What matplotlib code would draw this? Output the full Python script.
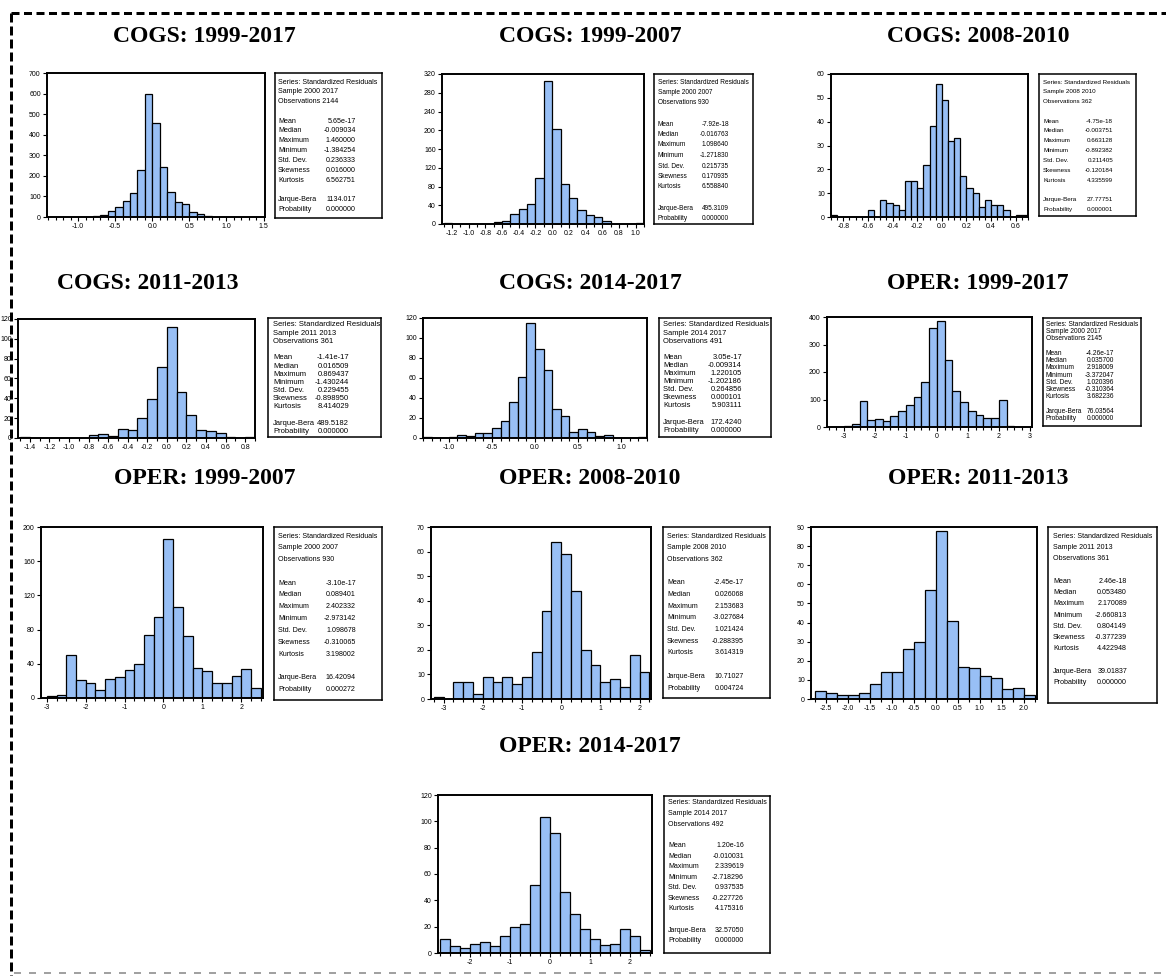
import numpy as np
import matplotlib
matplotlib.use("Agg")
import matplotlib.pyplot as plt
from matplotlib.lines import Line2D
from matplotlib import font_manager

plt.rcParams["lines.scale_dashes"] = False

# ---------------------------------------------------------------- data
titles = ["COGS: 1999-2017", "COGS: 1999-2007", "COGS: 2008-2010",
          "COGS: 2011-2013", "COGS: 2014-2017", "OPER: 1999-2017",
          "OPER: 1999-2007", "OPER: 2008-2010", "OPER: 2011-2013",
          "OPER: 2014-2017"]

# first bin edge and bin width of each histogram
bin_start = [-1.4, -1.3, -0.9, -1.5, -1.3, -3.5, -3.0, -3.25, -2.75, -2.75]
bin_width = [0.1, 0.1, 0.05, 0.1, 0.1, 0.25, 0.25, 0.25, 0.25, 0.25]

counts_cogs_9917 = [2, 0, 0, 0, 1, 2, 5, 10, 28, 50, 78, 115, 230, 598, 458,
                    245, 123, 73, 62, 25, 16, 4, 2, 0, 1, 1, 0, 0, 2]
counts_cogs_9907 = [2, 0, 0, 0, 1, 1, 4, 7, 22, 31, 43, 98, 305, 202, 86, 55,
                    30, 20, 14, 7, 0, 1, 0, 2]
counts_cogs_0810 = [1, 0, 0, 0, 0, 0, 3, 0, 7, 6, 5, 3, 15, 15, 12, 22, 38, 56,
                    49, 32, 33, 17, 12, 10, 4, 7, 5, 5, 3, 0, 1, 1]
counts_cogs_1113 = [1, 0, 0, 0, 0, 0, 0, 3, 4, 2, 9, 8, 20, 39, 72, 112, 46,
                    23, 8, 7, 5, 1, 0, 1]
counts_cogs_1417 = [1, 0, 0, 1, 3, 2, 5, 5, 10, 17, 36, 61, 115, 89, 68, 29,
                    22, 6, 9, 6, 2, 3, 0, 0, 0, 1]
counts_oper_9917 = [1, 1, 2, 12, 95, 25, 30, 22, 40, 58, 80, 110, 165, 360,
                    385, 242, 132, 92, 58, 42, 33, 33, 98, 4, 1, 1]
counts_oper_9907 = [2, 4, 50, 21, 17, 9, 22, 24, 33, 40, 74, 95, 186, 106, 73,
                    35, 32, 18, 17, 26, 34, 12]
counts_oper_0810 = [1, 0, 7, 7, 2, 9, 7, 9, 6, 9, 19, 36, 64, 59, 44, 20, 14,
                    7, 8, 5, 18, 11]
counts_oper_1113 = [4, 3, 2, 2, 3, 8, 14, 14, 26, 30, 57, 88, 41, 17, 16, 12,
                    11, 5, 6, 2]
counts_oper_1417 = [11, 5, 4, 7, 8, 5, 13, 20, 22, 52, 103, 91, 46, 30, 18, 11,
                    6, 7, 18, 13, 2]
all_counts = [counts_cogs_9917, counts_cogs_9907, counts_cogs_0810,
              counts_cogs_1113, counts_cogs_1417, counts_oper_9917,
              counts_oper_9907, counts_oper_0810, counts_oper_1113,
              counts_oper_1417]

x_ranges = [(-1.42, 1.52), (-1.32, 1.1), (-0.9, 0.7), (-1.52, 0.9),
            (-1.3, 1.3), (-3.55, 3.07), (-3.15, 2.56), (-3.32, 2.29),
            (-2.83, 2.3), (-2.8, 2.55)]
x_ticks = [[-1.0, -0.5, 0.0, 0.5, 1.0, 1.5],
           [-1.2, -1.0, -0.8, -0.6, -0.4, -0.2, 0.0, 0.2, 0.4, 0.6, 0.8, 1.0],
           [-0.8, -0.6, -0.4, -0.2, 0.0, 0.2, 0.4, 0.6],
           [-1.4, -1.2, -1.0, -0.8, -0.6, -0.4, -0.2, 0.0, 0.2, 0.4, 0.6, 0.8],
           [-1.0, -0.5, 0.0, 0.5, 1.0],
           [-3, -2, -1, 0, 1, 2, 3],
           [-3, -2, -1, 0, 1, 2],
           [-3, -2, -1, 0, 1, 2],
           [-2.5, -2.0, -1.5, -1.0, -0.5, 0.0, 0.5, 1.0, 1.5, 2.0],
           [-2, -1, 0, 1, 2]]
x_fmt = ["%.1f"] * 5 + ["%d"] * 3 + ["%.1f", "%d"]
y_ticks = [[0, 100, 200, 300, 400, 500, 600, 700],
           [0, 40, 80, 120, 160, 200, 240, 280, 320],
           [0, 10, 20, 30, 40, 50, 60],
           [0, 20, 40, 60, 80, 100, 120],
           [0, 20, 40, 60, 80, 100, 120],
           [0, 100, 200, 300, 400],
           [0, 40, 80, 120, 160, 200],
           [0, 10, 20, 30, 40, 50, 60, 70],
           [0, 10, 20, 30, 40, 50, 60, 70, 80, 90],
           [0, 20, 40, 60, 80, 100, 120]]

samples = ["2000 2017", "2000 2007", "2008 2010", "2011 2013", "2014 2017",
           "2000 2017", "2000 2007", "2008 2010", "2011 2013", "2014 2017"]
observations = [2144, 930, 362, 361, 491, 2145, 930, 362, 361, 492]
stat_names = ["Mean", "Median", "Maximum", "Minimum", "Std. Dev.",
              "Skewness", "Kurtosis"]
stat_values = [
    ["5.65e-17", "-0.009034", "1.460000", "-1.384254", "0.236333", "0.016000", "6.562751"],
    ["-7.92e-18", "-0.016763", "1.098640", "-1.271830", "0.215735", "0.170935", "6.558840"],
    ["-4.75e-18", "-0.003751", "0.663128", "-0.892382", "0.211405", "-0.120184", "4.335599"],
    ["-1.41e-17", "0.016509", "0.869437", "-1.430244", "0.229455", "-0.898950", "8.414029"],
    ["3.05e-17", "-0.009314", "1.220105", "-1.202186", "0.264856", "0.000101", "5.903111"],
    ["-4.26e-17", "0.035700", "2.918009", "-3.372047", "1.020396", "-0.310364", "3.682236"],
    ["-3.10e-17", "0.089401", "2.402332", "-2.973142", "1.098678", "-0.310065", "3.198002"],
    ["-2.45e-17", "0.026068", "2.153683", "-3.027684", "1.021424", "-0.288395", "3.614319"],
    ["2.46e-18", "0.053480", "2.170089", "-2.660813", "0.804149", "-0.377239", "4.422948"],
    ["1.20e-16", "-0.010031", "2.339619", "-2.718296", "0.937535", "-0.227726", "4.175316"],
]
jarque_bera = ["1134.017", "495.3109", "27.77751", "489.5182", "172.4240",
               "76.03564", "16.42094", "10.71027", "39.01837", "32.57050"]
probability = ["0.000000", "0.000000", "0.000001", "0.000000", "0.000000",
               "0.000000", "0.000272", "0.004724", "0.000000", "0.000000"]

# ---------------------------------------------------------------- layout (pixels)
W, H = 1166, 976
title_pos = [(204, 37), (590, 37), (978, 37), (148, 284), (590, 284),
             (978, 284), (205, 478), (590, 478), (978, 478), (590, 746)]
hist_box = [(47, 73, 265, 217), (442, 74, 644, 224), (831, 74, 1028, 217),
            (18, 319, 255, 438), (423, 318, 647, 438), (827, 317, 1032, 427),
            (41, 527, 263, 698), (431, 527, 651, 699), (811, 527, 1037, 699),
            (438, 795, 652, 953)]
stat_box = [(275, 73, 382, 218), (654, 74, 753, 224), (1039, 74, 1136, 216),
            (268, 318, 381, 437), (659, 318, 771, 437), (1043, 318, 1141, 426),
            (274, 527, 382, 700), (663, 527, 770, 698), (1048, 527, 1157, 703),
            (664, 796, 770, 953)]
# label inset, value right edge, first line offset, line spacing, text width
stat_text = [(3, 81, 9, 9.8, 100), (4, 75, 8, 10.5, 91), (4, 74, 8, 9.8, 88),
             (5, 81, 7, 8.2, 106), (4, 83, 7, 8.1, 105), (3, 71, 6, 7.3, 92),
             (4, 82, 9, 11.8, 100), (4, 81, 9, 11.7, 98), (5, 79, 9, 11.3, 99),
             (4, 80, 7, 10.6, 97)]

BAR = "#98bff5"
SANS = "Liberation Sans"
SERIF = "Liberation Serif"
installed = {f.name for f in font_manager.fontManager.ttflist}
if "Liberation Sans Narrow" in installed:
    BOX_FONT, EM_PER_LINE = "Liberation Sans Narrow", 11.45
else:
    BOX_FONT, EM_PER_LINE = SANS, 13.95


def rect(l, t, r, b):
    return [l / W, 1 - b / H, (r - l) / W, (b - t) / H]


def fx(x):
    return x / W


def fy(y):
    return 1 - y / H


fig = plt.figure(figsize=(W / 100, H / 100), dpi=100)
fig.patch.set_facecolor("white")

for i in range(len(titles)):
    counts = np.asarray(all_counts[i])
    edges = bin_start[i] + bin_width[i] * np.arange(len(counts) + 1)

    ax = fig.add_axes(rect(*hist_box[i]))
    ax.bar(edges[:-1], counts, width=bin_width[i], align="edge", color=BAR,
           edgecolor="black", linewidth=0.9)
    ax.set_xlim(*x_ranges[i])
    ax.set_ylim(0, y_ticks[i][-1])
    ax.set_xticks(x_ticks[i])
    ax.set_xticklabels([x_fmt[i] % v for v in x_ticks[i]])
    ax.set_xticks(edges, minor=True)
    ax.set_yticks(y_ticks[i])
    ax.set_yticklabels([str(v) for v in y_ticks[i]])
    ax.tick_params(axis="both", which="major", direction="out", length=3,
                   width=0.8, labelsize=5, pad=1.5, colors="black")
    ax.tick_params(axis="x", which="minor", direction="out", length=2.5,
                   width=0.8)
    for lab in ax.get_xticklabels() + ax.get_yticklabels():
        lab.set_fontfamily(SANS)
    for sp in ax.spines.values():
        sp.set_linewidth(1.4)
        sp.set_color("black")

    # statistics box
    l, t, r, b = stat_box[i]
    sx = fig.add_axes(rect(l, t, r, b))
    sx.set_xticks([])
    sx.set_yticks([])
    for sp in sx.spines.values():
        sp.set_linewidth(1.1)
        sp.set_color("black")

    inset, vright, top, step, width_px = stat_text[i]
    fs = width_px / EM_PER_LINE * 0.72
    head = ["Series: Standardized Residuals",
            "Sample " + samples[i],
            "Observations %d" % observations[i]]
    for k, s in enumerate(head):
        fig.text(fx(l + inset), fy(t + top + k * step), s, fontsize=fs,
                 family=BOX_FONT, ha="left", va="center")
    rows = list(zip(stat_names, stat_values[i]))
    rows += [None, ("Jarque-Bera", jarque_bera[i]),
             ("Probability", probability[i])]
    for k, row in enumerate(rows):
        if row is None:
            continue
        name, val = row
        yy = fy(t + top + (4 + k) * step)
        fig.text(fx(l + inset), yy, name, fontsize=fs, family=BOX_FONT,
                 ha="left", va="center")
        fig.text(fx(l + vright), yy, val, fontsize=fs, family=BOX_FONT,
                 ha="right", va="center")

    cx, cy = title_pos[i]
    fig.text(fx(cx), fy(cy), titles[i], fontsize=17, family=SERIF,
             fontweight="bold", ha="center", va="center")

# dashed frame around the figure
px = 72 / 100
fig.add_artist(Line2D([fx(11), fx(W)], [fy(13), fy(13)], color="black",
                      lw=3 * px, linestyle=(0, (8 * px, 4.5 * px)),
                      transform=fig.transFigure, zorder=20))
fig.add_artist(Line2D([fx(11), fx(11)], [fy(13), fy(H)], color="black",
                      lw=3 * px, linestyle=(0, (9 * px, 4 * px)),
                      transform=fig.transFigure, zorder=20))
fig.add_artist(Line2D([fx(14), fx(W)], [fy(973), fy(973)], color="#8a8a8a",
                      lw=1.6 * px, linestyle=(0, (7 * px, 8 * px)),
                      transform=fig.transFigure, zorder=20))

fig.savefig("out.png", dpi=100, facecolor="white")
